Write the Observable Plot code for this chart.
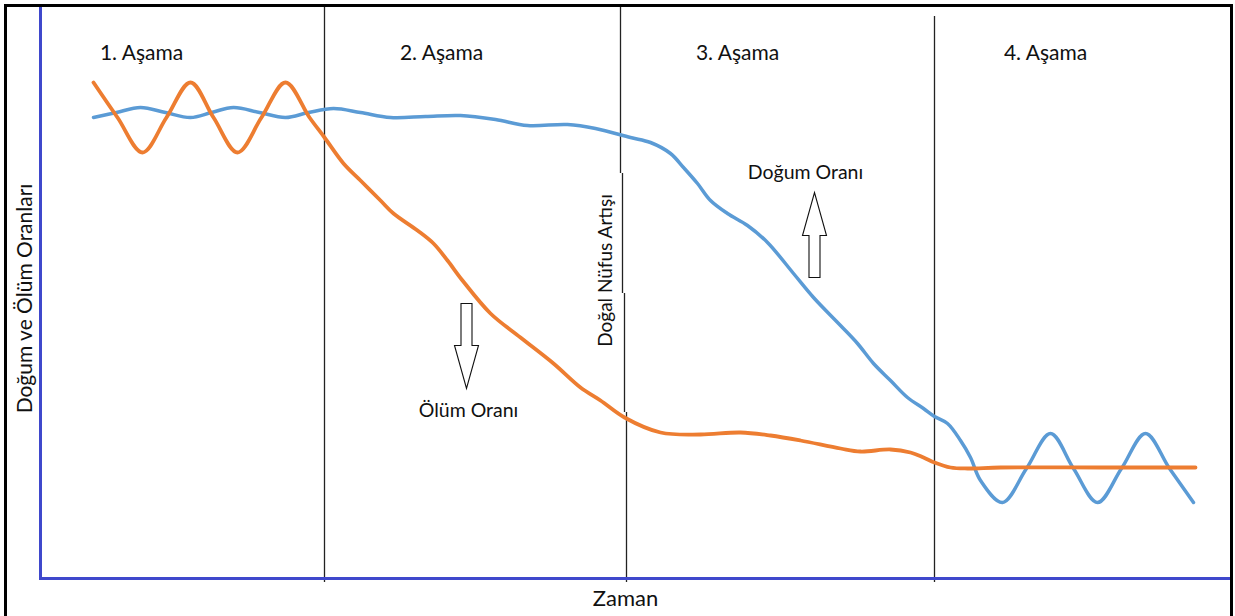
<!DOCTYPE html>
<html><head><meta charset="utf-8">
<script src="https://cdn.jsdelivr.net/npm/d3@7"></script>
<script src="https://cdn.jsdelivr.net/npm/@observablehq/plot@0.6"></script>
<style>
body{margin:0;background:#fff;}
#wrap{position:relative;width:1235px;height:616px;overflow:hidden;background:#fff;}
#border{position:absolute;left:4px;top:4px;width:1229px;height:640px;box-sizing:border-box;border:3px solid #000;pointer-events:none;}
</style></head><body><div id="wrap"><div id="border"></div></div>
<script>
// Time (t) and rate (r) readings, arbitrary units
const birthRate = [
  [53,461],[76,466],[100,471],[125,466],[150,461],[171,466],[193,471],[219,466],[245,461],[268,466],
  [293,470],[320,466],[350,461],[385,462],[420,463],[455,459],[487,453],[527,454],[555,450],[590,441],
  [610,436],[630,425],[643,411],[657,395],[670,378],[687,365],[707,353],[727,336],[753,305],[773,281],
  [800,253],[817,235],[833,215],[850,198],[867,181],[883,170],[894,162],[907,155],[920,138],[930,121],
  [940,98],[962,76],[986,110],[1010,145],[1033,110],[1057,76],[1081,110],[1105,145],[1129,110],[1153,76]
];
const deathRate = [
  [53,496],[77,461],[102,426],[126,461],[150,496],[173,461],[197,426],[221,461],[245,496],[269,461],
  [284,441],[303,415],[320,398],[340,378],[353,365],[377,348],[393,335],[407,318],[422,298],[450,265],
  [480,241],[513,215],[540,191],[560,178],[584,161],[620,146],[660,144],[700,146],[730,143],[760,138],
  [800,130],[820,127],[850,129],[870,126],[883,121],[894,116],[910,111],[927,110],[960,111],[1060,111],[1155,111]
];
const stageNames = ["1. Aşama", "2. Aşama", "3. Aşama", "4. Aşama"];
const stageCenters = [101, 401, 697, 1005];
const stageLabelLevel = 525;
const dividers = [
  {t:284, top:571, bottom:-4},
  {t:580, top:573, bottom:405},
  {t:582, top:405, bottom:285},
  {t:584, top:285, bottom:166},
  {t:586, top:166, bottom:-4},
  {t:894, top:562, bottom:-4}
];
const annotations = [
  {t:765, r:406, label:"Doğum Oranı"},
  {t:428, r:168, label:"Ölüm Oranı"}
];
const upArrows = [{t:774, r:343}];
const downArrows = [{t:426, r:233}];
const naturalIncrease = [{t:565, r:308, label:"Doğal Nüfus Artışı"}];
const xTitle = [{t:585, label:"Zaman"}];
const yTitle = [{r:280, label:"Doğum ve Ölüm Oranları"}];

const birth = birthRate.map(([t, r]) => ({t, r}));
const death = deathRate.map(([t, r]) => ({t, r}));
const stages = stageNames.map((name, i) => ({name, t: stageCenters[i], r: stageLabelLevel}));

function blockArrow(dir) { // dir = 1 down, -1 up
  const pts = [[-5.5,-42],[5.5,-42],[5.5,0],[12,0],[0,43],[-12,0],[-5.5,0]];
  return {draw(ctx) {
    pts.forEach(([x, y], i) => i ? ctx.lineTo(x, y * dir) : ctx.moveTo(x, y * dir));
    ctx.closePath();
  }};
}

const blue = "#5b9bd5", orange = "#ed7d31", axisBlue = "#3f48cc", ink = "#111";

const chart = Plot.plot({
  width: 1235, height: 616,
  marginLeft: 40, marginRight: 5, marginTop: 8, marginBottom: 38,
  x: {domain: [0, 1190], axis: null},
  y: {domain: [0, 570], axis: null},
  style: {fontFamily: "Lato, 'Open Sans', sans-serif", background: "transparent", overflow: "visible"},
  marks: [
    Plot.ruleX(dividers, {x: "t", y1: "bottom", y2: "top", stroke: "#222", strokeWidth: 1.3}),
    Plot.ruleX([0], {y1: -2, y2: 571, stroke: axisBlue, strokeWidth: 3}),
    Plot.ruleY([0], {x1: 0, x2: 1190, stroke: axisBlue, strokeWidth: 3}),
    Plot.line(birth, {x: "t", y: "r", stroke: blue, strokeWidth: 3.5, curve: "catmull-rom"}),
    Plot.line(death, {x: "t", y: "r", stroke: orange, strokeWidth: 3.8, curve: "catmull-rom"}),
    Plot.text(stages, {x: "t", y: "r", text: "name", fontSize: 21, fill: ink}),
    Plot.text(annotations, {x: "t", y: "r", text: "label", fontSize: 19.5, fill: ink}),
    Plot.text(naturalIncrease, {x: "t", y: "r", text: "label", fontSize: 19, rotate: -90, fill: ink}),
    Plot.dot(upArrows, {x: "t", y: "r", r: 40, symbol: blockArrow(-1), fill: "white", stroke: "#111", strokeWidth: 1.1}),
    Plot.dot(downArrows, {x: "t", y: "r", r: 40, symbol: blockArrow(1), fill: "white", stroke: "#111", strokeWidth: 1.1}),
    Plot.text(xTitle, {x: "t", text: "label", frameAnchor: "bottom", dy: 27, fontSize: 22, fill: ink}),
    Plot.text(yTitle, {y: "r", text: "label", frameAnchor: "left", textAnchor: "middle", dx: -15, rotate: -90, fontSize: 21, fill: ink})
  ]
});
document.getElementById("wrap").insertBefore(chart, document.getElementById("border"));
</script>
</body></html>
